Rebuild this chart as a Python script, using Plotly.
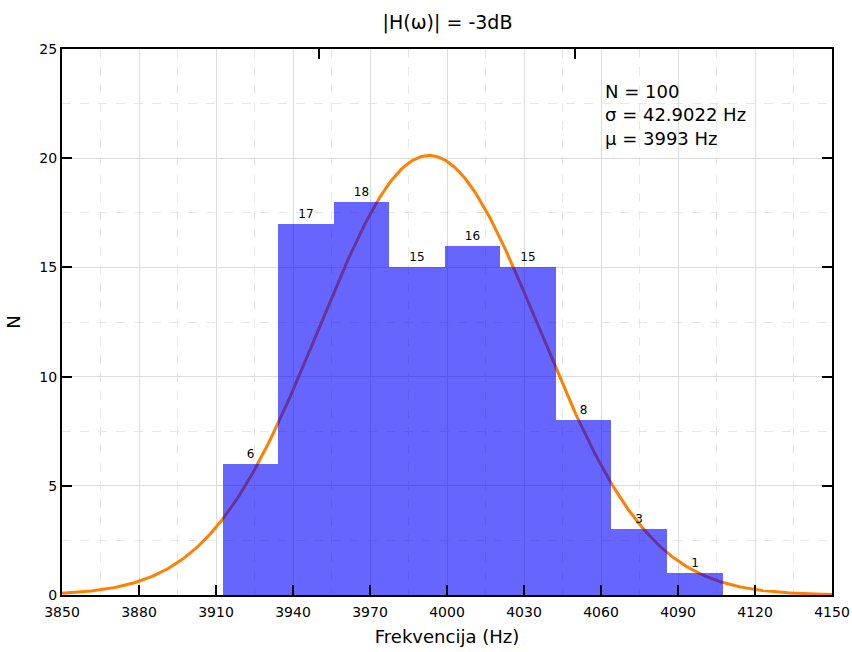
import numpy as np
import plotly.graph_objects as go

# Data
bin_start = 3912.6
bin_width = 21.64
counts = [6, 17, 18, 15, 16, 15, 8, 3, 1]
N = 100
sigma = 42.9022
mu = 3993
x_ticks = [3850, 3880, 3910, 3940, 3970, 4000, 4030, 4060, 4090, 4120, 4150]
y_ticks = [0, 5, 10, 15, 20, 25]
top_ticks = [3950, 4050]
right_ticks = [5, 10, 15, 20]

centers = [bin_start + bin_width * (i + 0.5) for i in range(len(counts))]

# Fitted normal curve from stated parameters
xs = np.linspace(3850, 4150, 400)
ys = N * bin_width / (sigma * np.sqrt(2 * np.pi)) * np.exp(-0.5 * ((xs - mu) / sigma) ** 2)

FONT = "DejaVu Sans"
W, H = 852, 652

fig = go.Figure()
fig.add_trace(go.Scatter(x=xs, y=ys, mode="lines",
                         line=dict(color="#ff8000", width=3), showlegend=False,
                         hoverinfo="skip"))
# bars on overlay axes so they are drawn above the curve (semi-transparent)
fig.add_trace(go.Bar(x=centers, y=counts, width=bin_width, xaxis="x2", yaxis="y2",
                     marker=dict(color="rgba(0,0,255,0.6)", line=dict(width=0)),
                     text=[str(c) for c in counts], textposition="outside",
                     textfont=dict(size=12, color="black", family=FONT),
                     cliponaxis=False, showlegend=False))

fig.add_annotation(x=(603 - 62) / 770, y=0.945, xref="paper", yref="paper",
                   xanchor="left", yanchor="top",
                   align="left", showarrow=False,
                   text=f"N = {N}<br>σ = {sigma} Hz<br>μ = {mu} Hz",
                   font=dict(size=18, family=FONT, color="black"))

axis_common = dict(showline=True, linecolor="black", linewidth=2,
                   ticks="inside", ticklen=10, tickwidth=2, tickcolor="black",
                   tickfont=dict(size=14, family=FONT, color="black"),
                   zeroline=False, automargin=False)

fig.update_layout(
    width=W, height=H,
    paper_bgcolor="white", plot_bgcolor="white",
    margin=dict(l=62, r=20, t=49, b=57),
    bargap=0,
    font=dict(family=FONT, color="black"),
    title=dict(text="|H(ω)| = -3dB", x=447.5 / W, xanchor="center",
               y=1 - 22 / H, yanchor="middle",
               font=dict(size=19, family=FONT, color="black")),
    xaxis=dict(range=[3850, 4150], tickvals=x_ticks, ticklabelstandoff=3,
               title=dict(text="Frekvencija (Hz)", font=dict(size=18, family=FONT), standoff=12),
               showgrid=True, gridcolor="#dcdcdc", gridwidth=1,
               minor=dict(tickvals=[v + 15 for v in x_ticks[:-1]], showgrid=True,
                          gridcolor="#e8e8e8", griddash="dash", ticks=""),
               **axis_common),
    yaxis=dict(range=[0, 25], tickvals=y_ticks,
               title=dict(text="N", font=dict(size=18, family=FONT), standoff=14),
               showgrid=True, gridcolor="#dcdcdc", gridwidth=1,
               minor=dict(tickvals=[v + 2.5 for v in y_ticks[:-1]], showgrid=True,
                          gridcolor="#e8e8e8", griddash="dash", ticks=""),
               **axis_common),
    xaxis2=dict(overlaying="x", side="top", range=[3850, 4150], tickvals=top_ticks,
                showticklabels=False, showgrid=False, showline=True, linecolor="black",
                linewidth=2, ticks="inside", ticklen=10, tickwidth=2, tickcolor="black",
                zeroline=False, automargin=False),
    yaxis2=dict(overlaying="y", side="right", range=[0, 25], tickvals=right_ticks,
                showticklabels=False, showgrid=False, showline=True, linecolor="black",
                linewidth=2, ticks="inside", ticklen=10, tickwidth=2, tickcolor="black",
                zeroline=False, automargin=False),
)

fig.write_html("out.html", config={"displayModeBar": False},
               post_script="document.body.style.margin='0';document.body.style.overflow='hidden';")
